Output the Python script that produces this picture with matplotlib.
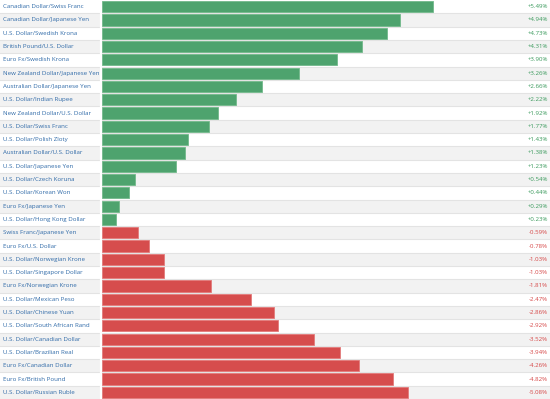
import numpy as np
import matplotlib.pyplot as plt
import matplotlib.transforms as mtransforms

pairs = [
    "Canadian Dollar/Swiss Franc", "Canadian Dollar/Japanese Yen", "U.S. Dollar/Swedish Krona",
    "British Pound/U.S. Dollar", "Euro Fx/Swedish Krona", "New Zealand Dollar/Japanese Yen",
    "Australian Dollar/Japanese Yen", "U.S. Dollar/Indian Rupee", "New Zealand Dollar/U.S. Dollar",
    "U.S. Dollar/Swiss Franc", "U.S. Dollar/Polish Zloty", "Australian Dollar/U.S. Dollar",
    "U.S. Dollar/Japanese Yen", "U.S. Dollar/Czech Koruna", "U.S. Dollar/Korean Won",
    "Euro Fx/Japanese Yen", "U.S. Dollar/Hong Kong Dollar", "Swiss Franc/Japanese Yen",
    "Euro Fx/U.S. Dollar", "U.S. Dollar/Norwegian Krone", "U.S. Dollar/Singapore Dollar",
    "Euro Fx/Norwegian Krone", "U.S. Dollar/Mexican Peso", "U.S. Dollar/Chinese Yuan",
    "U.S. Dollar/South African Rand", "U.S. Dollar/Canadian Dollar", "U.S. Dollar/Brazilian Real",
    "Euro Fx/Canadian Dollar", "Euro Fx/British Pound", "U.S. Dollar/Russian Ruble",
]
changes = [5.49, 4.94, 4.73, 4.31, 3.90, 3.26, 2.66, 2.22, 1.92, 1.77, 1.43, 1.38, 1.23,
           0.54, 0.44, 0.29, 0.23, -0.59, -0.78, -1.03, -1.03, -1.81, -2.47, -2.86,
           -2.92, -3.52, -3.94, -4.26, -4.82, -5.08]

W, H = 550, 399
x0_px = 102          # where the bars start
px_per_unit = 60.3

fig = plt.figure(figsize=(W / 100, H / 100), dpi=100)
ax = fig.add_axes([0, 0, 1, 1])
ax.set_xlim(-x0_px / px_per_unit, (W - x0_px) / px_per_unit)
n = len(pairs)
ax.set_ylim(n - 0.5, -0.5)
ax.axis("off")

trans = mtransforms.blended_transform_factory(ax.transAxes, ax.transData)

for i in range(n):
    if i % 2 == 1:
        ax.axhspan(i - 0.5, i + 0.5, color="#f2f2f2", lw=0, zorder=0)
    ax.axhline(i + 0.5, color="#e3e3e3", lw=0.8, zorder=1)

# white gap between label column and bar area
ax.axvline(-1.2 / px_per_unit, color="white", lw=1.6, zorder=1)

y = np.arange(n)
vals = np.array(changes)
pos = vals >= 0
ax.barh(y[pos], vals[pos], height=0.84, color="#4ea36e", edgecolor="#72b98b", lw=0.6, zorder=2)
ax.barh(y[~pos], -vals[~pos], height=0.84, color="#d64d4d", edgecolor="#e27a7a", lw=0.6, zorder=2)

for i, (p, v) in enumerate(zip(pairs, changes)):
    ax.text(3 / W, i, p, transform=trans, ha="left", va="center",
            fontsize=4.4, color="#2f6aa8", family="Open Sans", zorder=3)
    col = "#3a9a5c" if v >= 0 else "#d64545"
    ax.text(548 / W, i, "%+.2f%%" % v, transform=trans, ha="right", va="center",
            fontsize=4.4, color=col, family="Open Sans", zorder=3)

fig.savefig("out.png", dpi=100)
